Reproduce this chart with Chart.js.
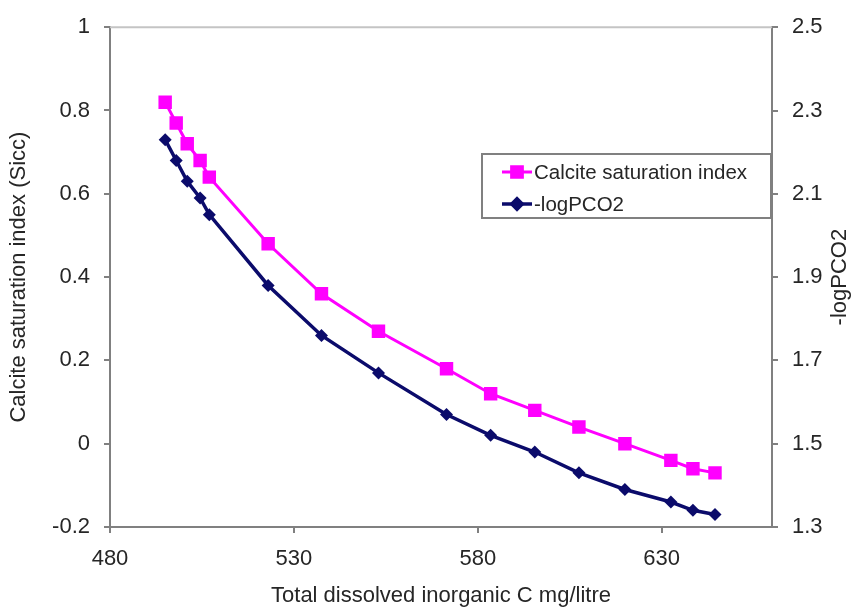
<!DOCTYPE html>
<html>
<head>
<meta charset="utf-8">
<script src="https://cdn.jsdelivr.net/npm/chart.js@4/dist/chart.umd.min.js"></script>
<style>
  html, body { margin: 0; padding: 0; background: #fff; }
  #wrap { width: 852px; height: 609px; position: relative; }
</style>
</head>
<body>
<div id="wrap"><canvas id="c" width="852" height="609"></canvas></div>
<script>
// ---- data ----
const dicValues = [495, 498, 501, 504.5, 507, 523, 537.5, 553, 571.5, 583.5, 595.5, 607.5, 620, 632.5, 638.5, 644.5];
const saturationIndex = [0.82, 0.77, 0.72, 0.68, 0.64, 0.48, 0.36, 0.27, 0.18, 0.12, 0.08, 0.04, 0.00, -0.04, -0.06, -0.07];
const negLogPCO2 = [2.23, 2.18, 2.13, 2.09, 2.05, 1.88, 1.76, 1.67, 1.57, 1.52, 1.48, 1.43, 1.39, 1.36, 1.34, 1.33];
const seriesNames = ['Calcite saturation index', '-logPCO2'];
const xTickValues = [480, 530, 580, 630];
const yLeftTickValues = [-0.2, 0, 0.2, 0.4, 0.6, 0.8, 1];
const yRightTickValues = [1.3, 1.5, 1.7, 1.9, 2.1, 2.3, 2.5];
const xTitle = 'Total dissolved inorganic C mg/litre';
const yLeftTitle = 'Calcite saturation index (Sicc)';
const yRightTitle = '-logPCO2';

const PINK = '#ff00ff';
const NAVY = '#0b0b6b';
const AXIS = '#808080';
const TEXT = '#262626';
const FONT = '"Liberation Sans", Arial, sans-serif';

const toPts = (xs, ys) => xs.map((x, i) => ({ x: x, y: ys[i] }));
const fixTicks = vals => (s => { s.ticks = vals.map(v => ({ value: v })); });

const overlay = {
  id: 'overlay',
  afterDraw(chart) {
    const ctx = chart.ctx;
    const a = chart.chartArea;
    ctx.save();
    // top border of plot area
    ctx.strokeStyle = '#c4c4c4';
    ctx.lineWidth = 2;
    ctx.beginPath();
    ctx.moveTo(a.left, a.top);
    ctx.lineTo(a.right, a.top);
    ctx.stroke();

    // right axis title (reads bottom-to-top)
    ctx.fillStyle = TEXT;
    ctx.font = '22px ' + FONT;
    ctx.textAlign = 'center';
    ctx.textBaseline = 'middle';
    ctx.translate(840, (a.top + a.bottom) / 2);
    ctx.rotate(-Math.PI / 2);
    ctx.fillText(yRightTitle, 0, 0);
    ctx.restore();

    // legend
    ctx.save();
    const bx = 482, by = 154, bw = 289, bh = 64;
    ctx.fillStyle = '#fff';
    ctx.fillRect(bx, by, bw, bh);
    ctx.strokeStyle = AXIS;
    ctx.lineWidth = 2;
    ctx.strokeRect(bx, by, bw, bh);
    const rows = [172, 204];
    chart.data.datasets.forEach((ds, i) => {
      const y = rows[i];
      ctx.strokeStyle = ds.borderColor;
      ctx.lineWidth = ds.borderWidth;
      ctx.beginPath();
      ctx.moveTo(502, y);
      ctx.lineTo(532, y);
      ctx.stroke();
      Chart.helpers.drawPoint(ctx, {
        pointStyle: ds.pointStyle,
        radius: ds.pointRadius * 0.8,
        borderWidth: 1,
        rotation: 0
      }, 517, y);
      ctx.fillStyle = ds.borderColor;
      ctx.strokeStyle = ds.borderColor;
      ctx.fill();
      ctx.fillStyle = TEXT;
      ctx.font = '20.5px ' + FONT;
      ctx.textAlign = 'left';
      ctx.textBaseline = 'middle';
      ctx.fillText(ds.label, 534, y + 1);
    });
    ctx.restore();
  }
};

new Chart(document.getElementById('c'), {
  type: 'line',
  data: {
    datasets: [
      {
        label: seriesNames[0],
        data: toPts(dicValues, saturationIndex),
        yAxisID: 'y',
        borderColor: PINK,
        backgroundColor: PINK,
        borderWidth: 3,
        pointStyle: 'rect',
        pointRadius: 9.5,
        pointBorderWidth: 0,
        tension: 0
      },
      {
        label: seriesNames[1],
        data: toPts(dicValues, negLogPCO2),
        yAxisID: 'y1',
        borderColor: NAVY,
        backgroundColor: NAVY,
        borderWidth: 3.5,
        pointStyle: 'rectRot',
        pointRadius: 6.5,
        pointBorderWidth: 0,
        tension: 0
      }
    ]
  },
  options: {
    responsive: false,
    animation: false,
    devicePixelRatio: 1,
    layout: { padding: { top: 20, right: 0, bottom: 0, left: 0 } },
    plugins: {
      legend: { display: false },
      tooltip: { enabled: false },
      title: { display: false }
    },
    scales: {
      x: {
        type: 'linear',
        position: 'bottom',
        min: 480,
        max: 660,
        afterBuildTicks: fixTicks(xTickValues),
        afterFit(s) { s.height = 82; },
        ticks: {
          color: TEXT,
          font: { family: FONT, size: 22 },
          padding: 13,
          maxRotation: 0,
          autoSkip: false
        },
        grid: { display: true, drawOnChartArea: false, drawTicks: true, tickLength: 6, color: AXIS, lineWidth: 2 },
        border: { display: true, color: AXIS, width: 2 },
        title: {
          display: true,
          text: xTitle,
          color: TEXT,
          font: { family: FONT, size: 22 },
          padding: { top: 0, bottom: 0 }
        }
      },
      y: {
        type: 'linear',
        position: 'left',
        min: -0.2,
        max: 1,
        afterBuildTicks: fixTicks(yLeftTickValues),
        afterFit(s) { s.width = 110; },
        ticks: {
          color: TEXT,
          font: { family: FONT, size: 22 },
          padding: 14,
          autoSkip: false,
          callback: v => (Math.round(v * 10) / 10).toString()
        },
        grid: { display: true, drawOnChartArea: false, drawTicks: true, tickLength: 6, color: AXIS, lineWidth: 2 },
        border: { display: true, color: AXIS, width: 2 },
        title: {
          display: true,
          text: yLeftTitle,
          color: TEXT,
          font: { family: FONT, size: 22 },
          padding: { top: 6, bottom: 0 }
        }
      },
      y1: {
        type: 'linear',
        position: 'right',
        min: 1.3,
        max: 2.5,
        afterBuildTicks: fixTicks(yRightTickValues),
        afterFit(s) { s.width = 80; },
        ticks: {
          color: TEXT,
          font: { family: FONT, size: 22 },
          padding: 14,
          autoSkip: false,
          callback: v => (Math.round(v * 10) / 10).toFixed(1)
        },
        grid: { display: true, drawOnChartArea: false, drawTicks: true, tickLength: 6, color: AXIS, lineWidth: 2 },
        border: { display: true, color: AXIS, width: 2 },
        title: { display: false }
      }
    }
  },
  plugins: [overlay]
});
</script>
</body>
</html>
